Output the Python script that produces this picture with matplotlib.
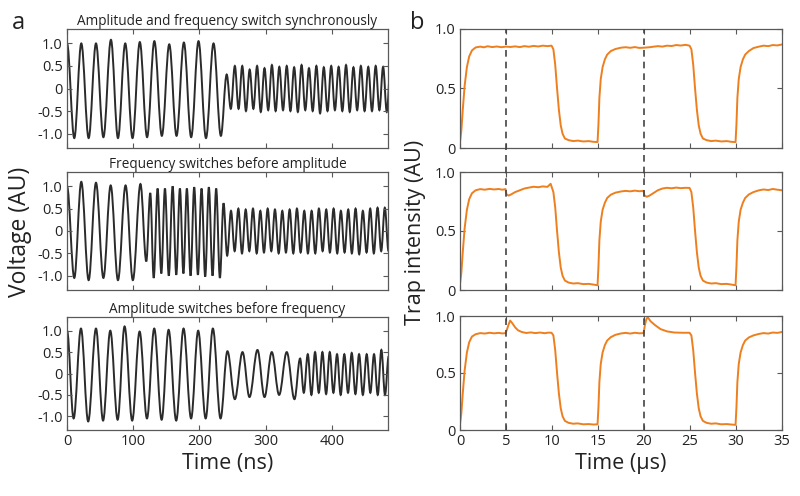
import matplotlib
matplotlib.use("Agg")
import matplotlib.pyplot as plt
from matplotlib.path import Path
from matplotlib.patches import PathPatch
from matplotlib.lines import Line2D
from matplotlib.transforms import blended_transform_factory

plt.rcParams['font.family'] = ['Open Sans', 'DejaVu Sans']

# ---- panel a: extrema of the drive waveforms (time ns, voltage AU) ----
a_titles = ["Amplitude and frequency switch synchronously",
            "Frequency switches before amplitude",
            "Amplitude switches before frequency"]

a1_t = [0, 11, 21.6, 32.7, 43.8, 55, 66.4, 77, 88, 99, 110, 121, 132, 143.3,
        154.5, 165.5, 176.6, 187.6, 198.7, 210, 221.4, 232.5,
        241.3, 247.5, 253.6, 259.2, 264.8, 270.4, 276.0, 281.6, 287.2, 292.8,
        298.4, 304.0, 309.6, 315.2, 320.8, 326.4, 332.0, 337.6, 343.2, 348.8,
        354.4, 360.0, 365.6, 371.2, 376.8, 382.4, 388.0, 393.6, 399.2, 404.8,
        410.4, 416.0, 421.6, 427.2, 432.8, 438.4, 444.0, 449.6, 455.2, 460.8,
        466.4, 472.0, 477.6, 483.2, 488.8]
a1_v = [1.0, -1.1, 1.0, -1.1, 1.0, -1.08, 1.08, -1.1, 1.0, -1.1, 1.03, -1.08,
        1.05, -1.05, 0.98, -1.05, 1.02, -1.08, 1.05, -1.1, 1.0, -1.05,
        0.31, -0.45, 0.5, -0.45, 0.5, -0.5, 0.42, -0.45, 0.5, -0.52,
        0.45, -0.48, 0.52, -0.5, 0.48, -0.48, 0.5, -0.5, 0.47, -0.52,
        0.52, -0.48, 0.45, -0.5, 0.5, -0.55, 0.47, -0.5, 0.5, -0.48,
        0.48, -0.5, 0.52, -0.52, 0.47, -0.48, 0.5, -0.5, 0.48, -0.5,
        0.5, -0.48, 0.48, -0.52, 0.5]

a2_t = [0, 11, 21.6, 32.7, 43.8, 55, 66, 77, 88.5, 99.5, 111, 119.8,
        125.8, 131, 136.9, 142.5, 148, 153.8, 159.6, 165.1, 170.6, 175.9,
        181.1, 186.7, 192.2, 197.8, 203.3, 208.8, 214.3, 219.9, 225.4, 231,
        236.5, 242, 247.8, 253.3, 258.9, 264.4, 270, 275.5, 281, 286.6,
        292.1, 297.6, 303.2, 308.7, 314.2, 319.8, 325.3, 330.8, 336.4, 341.9,
        347.4, 353, 358.5, 364, 369.6, 375.1, 380.6, 386.2, 391.7, 397.2,
        402.8, 408.3, 413.8, 419.4, 424.9, 430.4, 436, 441.5, 447, 452.6,
        458.1, 463.6, 469.2, 474.7, 480.2, 485.8]
a2_v = [1.0, -1.05, 1.1, -1.1, 1.08, -1.05, 1.02, -1.1, 1.02, -1.1, 1.05, -0.68,
        0.85, -1.05, 0.95, -0.95, 0.95, -1.0, 1.0, -0.98, 0.95, -0.95,
        0.95, -1.0, 0.98, -0.98, 0.95, -1.02, 0.98, -1.0, 0.95, -1.05,
        0.62, -0.55, 0.45, -0.45, 0.5, -0.5, 0.48, -0.45, 0.5, -0.5,
        0.45, -0.48, 0.5, -0.45, 0.48, -0.5, 0.45, -0.48, 0.48, -0.5,
        0.5, -0.48, 0.45, -0.5, 0.45, -0.5, 0.5, -0.45, 0.48, -0.48,
        0.5, -0.5, 0.45, -0.48, 0.48, -0.5, 0.5, -0.52, 0.45, -0.48,
        0.5, -0.5, 0.52, -0.45, 0.52, -0.45]

a3_t = [0, 10, 21.1, 32, 43.8, 54.5, 65.4, 76.5, 87, 98.5, 109.7, 120.8,
        131.8, 143, 153.5, 165, 176.1, 187.5, 198.2, 209.5, 220.4, 232,
        242.4, 253.6, 265.2, 275.7, 287.8, 298.4, 309.4, 320.5, 332, 343.7,
        352.2, 357.8, 363.8, 369.3, 374.8, 380.4, 385.9, 391.5, 397, 402.5,
        408, 413.5, 419, 424.6, 430.2, 435.8, 441.3, 447, 452.8, 458.3,
        463.9, 469.5, 475, 480.5, 486]
a3_v = [1.0, -1.05, 1.05, -1.12, 1.05, -1.1, 1.0, -1.08, 1.1, -1.1, 0.98, -1.05,
        1.05, -1.08, 1.02, -1.1, 1.05, -1.05, 1.0, -1.05, 1.05, -1.05,
        0.52, -0.6, 0.5, -0.55, 0.55, -0.55, 0.5, -0.5, 0.5, -0.6,
        0.35, -0.45, 0.45, -0.5, 0.5, -0.45, 0.5, -0.48, 0.5, -0.45,
        0.45, -0.5, 0.45, -0.45, 0.48, -0.48, 0.45, -0.5, 0.45, -0.45,
        0.45, -0.5, 0.55, -0.5, 0.4]

a_xticks = [0, 100, 200, 300, 400]
a_yticks = [-1.0, -0.5, 0, 0.5, 1.0]
a_yticklabels = ["-1.0", "-0.5", "0", "0.5", "1.0"]

# ---- panel b: trap intensity (time us, intensity AU) ----
b1_t = [0, 0.15, 0.3, 0.5, 0.75, 1.0, 1.3, 1.7, 2.2, 2.6, 3, 3.5, 4, 4.5, 5, 5.5,
        6, 6.5, 7, 7.5, 8, 8.5, 9, 9.5, 9.95,
        10.15, 10.35, 10.55, 10.75, 10.95, 11.15, 11.4, 11.8, 12.3, 12.8, 13.4,
        14, 14.5, 14.95,
        15.05, 15.15, 15.3, 15.5, 15.75, 16.0, 16.4, 16.9, 17.5, 18, 18.5, 19,
        19.5, 20, 20.5, 21, 21.5, 22, 22.5, 23, 23.5, 24, 24.5, 24.95,
        25.15, 25.35, 25.55, 25.75, 25.95, 26.15, 26.4, 26.8, 27.3, 27.8, 28.4,
        29, 29.5, 29.95,
        30.05, 30.15, 30.3, 30.5, 30.75, 31.0, 31.4, 31.9, 32.5, 33, 33.5, 34,
        34.5, 35]
b1_v = [0.05, 0.15, 0.32, 0.52, 0.68, 0.77, 0.82, 0.845, 0.852, 0.846, 0.855,
        0.848, 0.853, 0.847, 0.852, 0.849, 0.854, 0.848, 0.856, 0.851, 0.858,
        0.853, 0.86, 0.856, 0.86,
        0.83, 0.7, 0.5, 0.32, 0.19, 0.12, 0.08, 0.066, 0.058, 0.062, 0.055,
        0.058, 0.052, 0.05,
        0.2, 0.42, 0.58, 0.68, 0.745, 0.785, 0.815, 0.832, 0.843, 0.847, 0.842,
        0.848, 0.841, 0.843, 0.846, 0.851, 0.856, 0.852, 0.86, 0.857, 0.865,
        0.861, 0.867, 0.86,
        0.83, 0.7, 0.5, 0.32, 0.19, 0.12, 0.08, 0.066, 0.058, 0.062, 0.055,
        0.058, 0.052, 0.05,
        0.2, 0.42, 0.58, 0.68, 0.745, 0.785, 0.815, 0.84, 0.852, 0.86, 0.856,
        0.865, 0.862, 0.87]

b2_t = [0, 0.15, 0.3, 0.5, 0.75, 1.0, 1.3, 1.7, 2.2, 2.7, 3.2, 3.7, 4.2, 4.6,
        4.95, 5.05, 5.3, 5.6, 6.0, 6.5, 7.0, 7.5, 8.0, 8.5, 9.0, 9.5, 9.85,
        10.15, 10.35, 10.55, 10.75, 10.95, 11.15, 11.4, 11.8, 12.3, 12.8, 13.4,
        14, 14.5, 14.95,
        15.05, 15.15, 15.3, 15.5, 15.75, 16.0, 16.4, 16.9, 17.5, 18, 18.5, 19,
        19.5, 19.95, 20.05, 20.3, 20.6, 21.0, 21.5, 22.0, 22.5, 23, 23.5, 24,
        24.5, 24.95,
        25.15, 25.35, 25.55, 25.75, 25.95, 26.15, 26.4, 26.8, 27.3, 27.8, 28.4,
        29, 29.5, 29.95,
        30.05, 30.15, 30.3, 30.5, 30.75, 31.0, 31.4, 31.9, 32.5, 33, 33.5, 34,
        34.5, 35]
b2_v = [0.05, 0.15, 0.32, 0.52, 0.68, 0.77, 0.82, 0.845, 0.855, 0.85, 0.857,
        0.852, 0.856, 0.85, 0.855, 0.81, 0.8, 0.812, 0.83, 0.845, 0.86, 0.868,
        0.875, 0.871, 0.878, 0.874, 0.9,
        0.83, 0.7, 0.5, 0.32, 0.19, 0.12, 0.08, 0.063, 0.055, 0.058, 0.05,
        0.052, 0.046, 0.04,
        0.2, 0.42, 0.58, 0.68, 0.74, 0.78, 0.808, 0.825, 0.835, 0.84, 0.836,
        0.842, 0.837, 0.84, 0.8, 0.79, 0.8, 0.82, 0.845, 0.86, 0.866, 0.862,
        0.868, 0.863, 0.866, 0.865,
        0.83, 0.7, 0.5, 0.32, 0.19, 0.12, 0.08, 0.063, 0.055, 0.058, 0.05,
        0.052, 0.046, 0.04,
        0.2, 0.42, 0.58, 0.68, 0.74, 0.78, 0.81, 0.83, 0.845, 0.852, 0.847,
        0.856, 0.85, 0.845]

b3_t = [0, 0.15, 0.3, 0.5, 0.75, 1.0, 1.3, 1.7, 2.2, 2.7, 3.2, 3.7, 4.2, 4.6,
        4.95, 5.1, 5.3, 5.45, 5.7, 6.0, 6.3, 6.7, 7.2, 7.7, 8.2, 8.7, 9.2, 9.6,
        9.95,
        10.15, 10.35, 10.55, 10.75, 10.95, 11.15, 11.4, 11.8, 12.3, 12.8, 13.4,
        14, 14.5, 14.95,
        15.05, 15.15, 15.3, 15.5, 15.75, 16.0, 16.4, 16.9, 17.5, 18, 18.5, 19,
        19.5, 19.95, 20.1, 20.25, 20.4, 20.7, 21.2, 21.8, 22.5, 23.3, 24.2, 24.95,
        25.15, 25.35, 25.55, 25.75, 25.95, 26.15, 26.4, 26.8, 27.3, 27.8, 28.4,
        29, 29.5, 29.95,
        30.05, 30.15, 30.3, 30.5, 30.75, 31.0, 31.4, 31.9, 32.5, 33, 33.5, 34,
        34.5, 35]
b3_v = [0.05, 0.15, 0.32, 0.52, 0.68, 0.77, 0.82, 0.84, 0.85, 0.846, 0.853,
        0.848, 0.852, 0.847, 0.85, 0.88, 0.93, 0.96, 0.935, 0.9, 0.875, 0.86,
        0.851, 0.856, 0.85, 0.855, 0.849, 0.854, 0.853,
        0.83, 0.7, 0.5, 0.32, 0.19, 0.12, 0.08, 0.063, 0.055, 0.058, 0.05,
        0.052, 0.048, 0.05,
        0.2, 0.42, 0.58, 0.68, 0.745, 0.785, 0.815, 0.835, 0.847, 0.852, 0.846,
        0.853, 0.848, 0.85, 0.92, 0.97, 0.99, 0.955, 0.92, 0.885, 0.865, 0.855,
        0.853, 0.853,
        0.83, 0.7, 0.5, 0.32, 0.19, 0.12, 0.08, 0.063, 0.055, 0.058, 0.05,
        0.052, 0.048, 0.045,
        0.2, 0.42, 0.58, 0.68, 0.745, 0.785, 0.812, 0.83, 0.843, 0.85, 0.846,
        0.855, 0.852, 0.86]

b_xticks = [0, 5, 10, 15, 20, 25, 30, 35]
b_yticks = [0, 0.5, 1.0]
b_yticklabels = ["0", "0.5", "1.0"]
switch_times = [5, 20]

wave_col = "#2b2b2b"
trap_col = "#ED7F1E"
spine_col = "#595959"
text_col = "#222222"


def wave_path(t, v, k=0.364):
    # smooth half-cycles between consecutive extrema (horizontal tangents)
    verts = [(t[0], v[0])]
    codes = [Path.MOVETO]
    for i in range(1, len(t)):
        dt = t[i] - t[i - 1]
        verts += [(t[i - 1] + k * dt, v[i - 1]), (t[i] - k * dt, v[i]), (t[i], v[i])]
        codes += [Path.CURVE4] * 3
    return Path(verts, codes)


def style(ax):
    for s in ax.spines.values():
        s.set_color(spine_col)
        s.set_linewidth(0.9)
    ax.tick_params(direction="in", length=3.5, width=0.8, color=spine_col,
                   top=True, right=True, labelsize=10.5, labelcolor=text_col, pad=3)


fig = plt.figure(figsize=(8, 4.96), dpi=100)
W, H = 800, 496


def px_axes(x0, y0, x1, y1):
    return fig.add_axes([x0 / W, 1 - y1 / H, (x1 - x0) / W, (y1 - y0) / H])


a_rows = [(29, 148), (172, 290), (317, 430)]
b_rows = [(29, 148), (172, 290), (316, 430)]
a_data = [(a1_t, a1_v), (a2_t, a2_v), (a3_t, a3_v)]
b_data = [(b1_t, b1_v), (b2_t, b2_v), (b3_t, b3_v)]

for i, (y0, y1) in enumerate(a_rows):
    ax = px_axes(67, y0, 388, y1)
    t, v = a_data[i]
    ax.add_patch(PathPatch(wave_path(t, v), fc="none", ec=wave_col, lw=1.4))
    ax.set_xlim(0, 485)
    ax.set_ylim(-1.32, 1.32)
    ax.set_xticks(a_xticks)
    ax.set_yticks(a_yticks)
    ax.set_yticklabels(a_yticklabels)
    style(ax)
    ax.set_title(a_titles[i], fontsize=9.8, color=text_col, pad=3)
    if i < 2:
        ax.tick_params(labelbottom=False)
    else:
        ax.set_xlabel("Time (ns)", fontsize=15.5, color=text_col, labelpad=3)

b_axes = []
for i, (y0, y1) in enumerate(b_rows):
    ax = px_axes(460, y0, 782, y1)
    t, v = b_data[i]
    ax.plot(t, v, color=trap_col, lw=1.4)
    ax.set_xlim(0, 35)
    ax.set_ylim(0, 1.0)
    ax.set_xticks(b_xticks)
    ax.set_yticks(b_yticks)
    ax.set_yticklabels(b_yticklabels)
    style(ax)
    if i < 2:
        ax.tick_params(labelbottom=False)
    else:
        ax.set_xlabel("Time (\u00b5s)", fontsize=15.5, color=text_col, labelpad=3)
    b_axes.append(ax)

# dashed markers crossing all three b panels
tr = blended_transform_factory(b_axes[2].transData, fig.transFigure)
for ts in switch_times:
    fig.add_artist(Line2D([ts, ts], [1 - 430 / H, 1 - 29 / H], transform=tr,
                          color="#444444", lw=1.2, linestyle=(0, (4, 3))))

fig.text(20 / W, 1 - 232 / H, "Voltage (AU)", rotation=90, fontsize=16.5,
         color=text_col, ha="center", va="center")
fig.text(415 / W, 1 - 232 / H, "Trap intensity (AU)", rotation=90, fontsize=15.5,
         color=text_col, ha="center", va="center")
fig.text(18 / W, 1 - 23 / H, "a", fontsize=17, color=text_col, ha="center", va="center")
fig.text(417 / W, 1 - 23 / H, "b", fontsize=17, color=text_col, ha="center", va="center")

fig.savefig("out.png", dpi=100)
